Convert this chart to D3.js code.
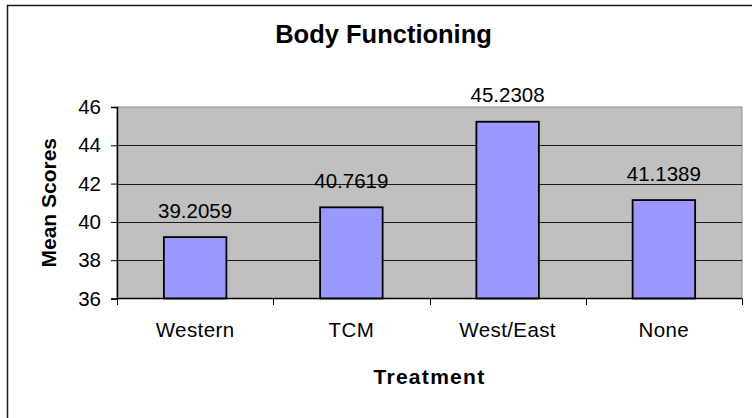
<!DOCTYPE html>
<html>
<head>
<meta charset="utf-8">
<script src="https://cdn.jsdelivr.net/npm/d3@7"></script>
<style>
  html, body { margin: 0; padding: 0; background: #fff; }
  svg { display: block; font-family: Arial, "Liberation Sans", sans-serif; }
</style>
</head>
<body>
<div id="chart"></div>
<script>
// data
const categories = ["Western", "TCM", "West/East", "None"];
const meanScores = [39.2059, 40.7619, 45.2308, 41.1389];
const yTicks = [36, 38, 40, 42, 44, 46];

const totalWidth = 752;
const totalHeight = 418;
const plot = { left: 117, top: 107, right: 742, bottom: 298.5 };

const svg = d3.select("#chart")
    .append("svg")
    .attr("width", totalWidth)
    .attr("height", totalHeight);

// outer chart frame (runs off the right and bottom edges)
svg.append("rect")
    .attr("x", 7.5)
    .attr("y", 5.5)
    .attr("width", 800)
    .attr("height", 500)
    .attr("fill", "#fff")
    .attr("stroke", "#1a1a1a")
    .attr("stroke-width", 1.5);

// scales
const x = d3.scaleBand()
    .domain(categories)
    .range([plot.left, plot.right])
    .paddingInner(0)
    .paddingOuter(0);

const y = d3.scaleLinear()
    .domain([36, 46])
    .range([plot.bottom, plot.top]);

const barWidth = x.bandwidth() * 0.4;

// plot area background
svg.append("rect")
    .attr("x", plot.left)
    .attr("y", plot.top)
    .attr("width", plot.right - plot.left)
    .attr("height", plot.bottom - plot.top)
    .attr("fill", "#c0c0c0")
    .attr("stroke", "#8c8c8c")
    .attr("stroke-width", 1);

// gridlines
svg.append("g")
    .selectAll("line")
    .data(yTicks.filter(d => d > 36 && d < 46))
    .enter()
    .append("line")
    .attr("x1", plot.left)
    .attr("x2", plot.right)
    .attr("y1", d => Math.round(y(d)) + 0.5)
    .attr("y2", d => Math.round(y(d)) + 0.5)
    .attr("stroke", "#1a1a1a")
    .attr("stroke-width", 1);

// bars
svg.append("g")
    .selectAll("rect")
    .data(meanScores)
    .enter()
    .append("rect")
    .attr("x", (d, i) => x(categories[i]) + (x.bandwidth() - barWidth) / 2)
    .attr("y", d => y(d))
    .attr("width", barWidth)
    .attr("height", d => plot.bottom - y(d))
    .attr("fill", "#9999ff")
    .attr("stroke", "#000")
    .attr("stroke-width", 1.8);

// value labels
svg.append("g")
    .selectAll("text")
    .data(meanScores)
    .enter()
    .append("text")
    .attr("x", (d, i) => x(categories[i]) + x.bandwidth() / 2)
    .attr("y", d => y(d) - 19.5)
    .attr("text-anchor", "middle")
    .attr("font-size", "20.5px")
    .attr("fill", "#000")
    .text(d => d.toFixed(4));

// y axis
const yAxis = svg.append("g")
    .attr("transform", `translate(${plot.left},0)`)
    .call(d3.axisLeft(y).tickValues(yTicks).tickSize(6).tickPadding(10).tickFormat(d3.format("d")));
yAxis.select(".domain").attr("stroke", "#000").attr("stroke-width", 1.5);
yAxis.selectAll(".tick line").attr("stroke", "#000");
yAxis.selectAll(".tick text")
    .attr("font-size", "20.5px")
    .attr("font-family", "Arial, 'Liberation Sans', sans-serif")
    .attr("fill", "#000");

// x axis, ticks sit on the band boundaries
const xAxis = svg.append("g")
    .attr("transform", `translate(0,${plot.bottom})`);
xAxis.append("line")
    .attr("x1", plot.left)
    .attr("x2", plot.right)
    .attr("stroke", "#000")
    .attr("stroke-width", 1.5);
xAxis.selectAll(".xtick")
    .data(categories.map(c => x(c)).concat([plot.right]))
    .enter()
    .append("line")
    .attr("class", "xtick")
    .attr("x1", d => Math.round(d) + 0.5)
    .attr("x2", d => Math.round(d) + 0.5)
    .attr("y1", 0)
    .attr("y2", 6.5)
    .attr("stroke", "#000");
xAxis.selectAll(".xlabel")
    .data(categories)
    .enter()
    .append("text")
    .attr("class", "xlabel")
    .attr("x", d => x(d) + x.bandwidth() / 2)
    .attr("y", 38.2)
    .attr("text-anchor", "middle")
    .attr("font-size", "20.5px")
    .attr("letter-spacing", "0.4px")
    .attr("fill", "#000")
    .text(d => d);

// title
svg.append("text")
    .attr("x", 383.5)
    .attr("y", 42.5)
    .attr("text-anchor", "middle")
    .attr("font-size", "25.5px")
    .attr("font-weight", "bold")
    .text("Body Functioning");

// axis titles
svg.append("text")
    .attr("transform", `translate(56,${(plot.top + plot.bottom) / 2}) rotate(-90)`)
    .attr("text-anchor", "middle")
    .attr("font-size", "21px")
    .attr("font-weight", "bold")
    .text("Mean Scores");

svg.append("text")
    .attr("x", (plot.left + plot.right) / 2)
    .attr("y", 384)
    .attr("text-anchor", "middle")
    .attr("font-size", "21px")
    .attr("font-weight", "bold")
    .attr("letter-spacing", "1.3px")
    .text("Treatment");
</script>
</body>
</html>
